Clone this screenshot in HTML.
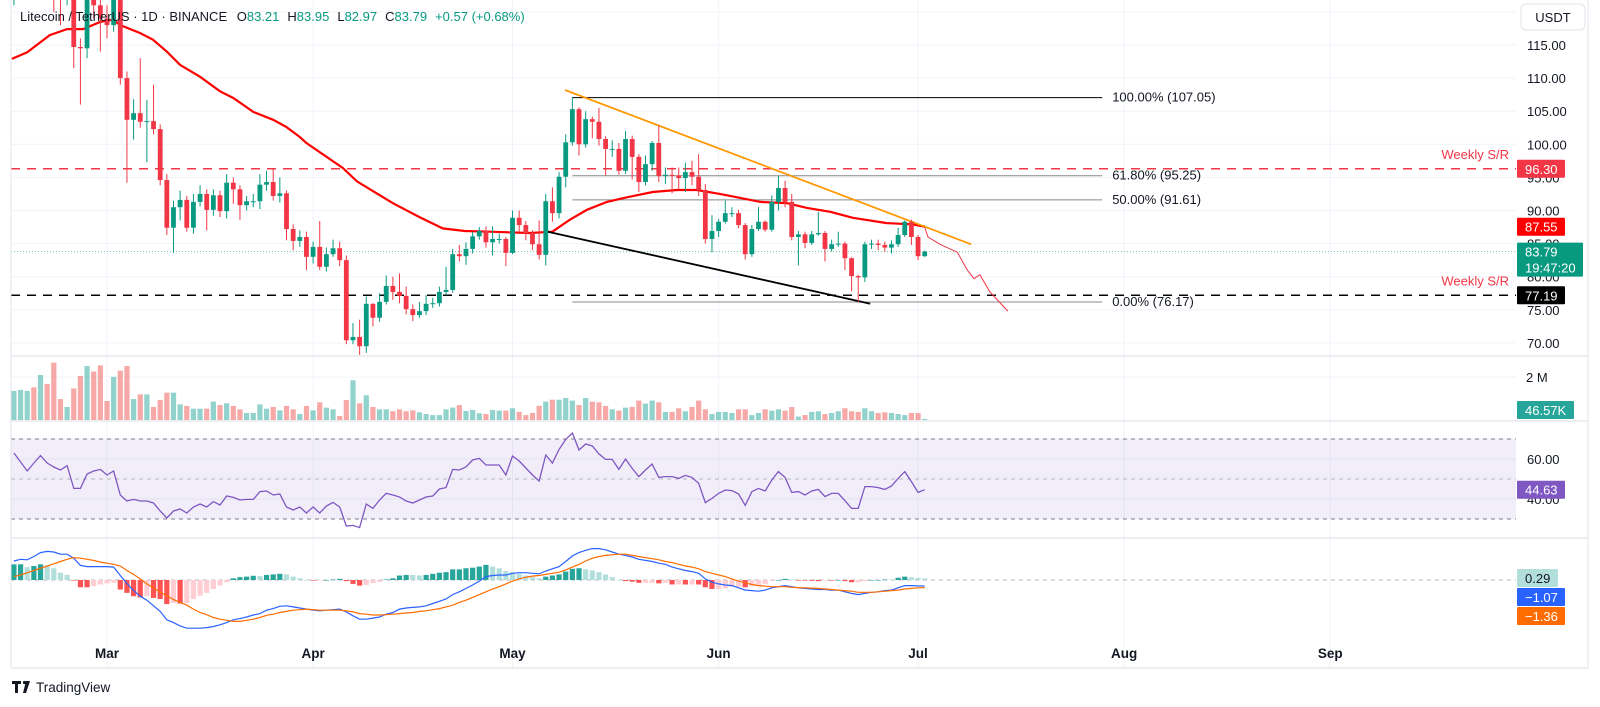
<!DOCTYPE html>
<html><head><meta charset="utf-8"><style>
html,body{margin:0;padding:0;background:#fff;}
svg{display:block;font-family:"Liberation Sans",Arial,sans-serif;}
</style></head><body>
<svg id="chart" width="1600" height="707" viewBox="0 0 1600 707">
<defs>
<clipPath id="cp-price"><rect x="11" y="0" width="1505" height="356"/></clipPath>
<clipPath id="cp-vol"><rect x="11" y="356" width="1505" height="65"/></clipPath>
<clipPath id="cp-rsi"><rect x="11" y="421" width="1505" height="117"/></clipPath>
<clipPath id="cp-macd"><rect x="11" y="538" width="1505" height="130"/></clipPath>
</defs>
<rect x="0" y="0" width="1600" height="707" fill="#ffffff"/>
<g id="grid"></g>
<g id="price" clip-path="url(#cp-price)"></g>
<g id="vol" clip-path="url(#cp-vol)"></g>
<g id="rsi" clip-path="url(#cp-rsi)"></g>
<g id="macd" clip-path="url(#cp-macd)"></g>
<g id="axis"></g>
<text x="20" y="21" font-size="13" fill="#131722">Litecoin / TetherUS · 1D · BINANCE <tspan dx="6">O</tspan><tspan fill="#089981">83.21</tspan><tspan dx="8">H</tspan><tspan fill="#089981">83.95</tspan><tspan dx="8">L</tspan><tspan fill="#089981">82.97</tspan><tspan dx="8">C</tspan><tspan fill="#089981">83.79</tspan><tspan dx="8" fill="#089981">+0.57 (+0.68%)</tspan></text>
<g><rect x="1521" y="4" width="64" height="26" rx="5" fill="#fff" stroke="#e0e3eb"/><text x="1553" y="22" font-size="13" text-anchor="middle" fill="#131722">USDT</text></g>
<g>
<path d="M12 681h9v3h-3v9h-3v-9h-3z" fill="#131722"/><circle cx="24.5" cy="682.5" r="1.6" fill="#131722"/><path d="M26 681h4l-4 12h-3z" fill="#131722"/>
<text x="36" y="692" font-size="13.5" fill="#131722">TradingView</text></g>
</svg>
<script>
// ---- data (day offsets from Mar 1 start at -14) ----
const startDay = -14;
const closes = [124,126,128,125,129,127,124,123,125,114.7,114.5,123,121,119,
118,127,110,103.7,
104.7,103.4,103.5,102.3,94.6,87.4,90.5,91.6,87.4,91.3,92.5,90.1,92.3,89.9,94.2,93.2,90.8,91.4,91.4,93.9,94.3,92.2,92.6,87.2,85.4,
86.0,83.0,84.5,81.5,83.4,84.3,82.5,70.4,70.9,69.5,75.9,73.8,76.2,78.6,77.7,77.1,75.1,74.2,74.8,75.9,76.0,77.7,78.0,83.4,83.1,84.2,86.1,86.9,85.2,85.7,85.7,83.6,88.9,87.8,86.6,84.9,83.3,
91.4,89.6,95.1,100.3,105.3,100.0,103.8,103.4,100.8,99.3,99.3,96.0,100.8,98.1,94.3,97.0,100.2,95.2,95.4,95.3,94.9,95.8,95.1,93.1,85.7,86.9,88.3,89.6,89.6,87.8,83.4,87.2,88.3,87.1,91.3,93.4,91.3,86.0,86.4,85.1,86.4,86.6,84.2,84.9,85.0,82.8,80.1,79.9,84.9,85.0,84.8,84.4,84.9,86.3,88.3,86.0,83.1,83.79];
const highs = [128,130,131,129,132,131,128,126,128,126,116,125,124,124,121,135,128,111,
106.8,113,106.7,109,103,95.5,91.5,93,92.2,92.5,93.8,93.2,93.2,93.0,95.5,95.0,93.8,92.2,92.5,95.5,96.0,96.2,95.0,93.0,87.9,
87.0,86.8,85.3,88.4,84.4,85.6,85.3,83.2,73.0,73.5,77.0,76.0,77.5,80.2,80.0,80.5,78.5,75.8,76.2,77.2,76.8,78.5,81.5,84.2,84.8,85.2,86.8,87.5,87.6,87.6,86.5,86.0,90.0,90.0,88.4,87.0,88.5,
92.5,93.5,95.8,101.5,107.1,105.6,105.0,104.2,105.5,101.2,100.6,100.2,102.0,101.3,98.5,98.3,100.5,102.9,96.5,96.5,96.5,97.2,97.5,98.5,94.0,89.3,88.7,91.5,90.5,90.1,88.1,87.8,90.5,88.5,92.3,95.2,94.5,92.5,86.9,86.8,86.9,89.8,86.9,85.6,86.8,85.3,82.9,80.3,85.3,85.6,85.6,85.3,85.5,87.4,88.5,88.6,86.3,83.95];
const lows = [121,123,125,122,124,125,120,118,121,111.5,106,113,119,114,116,117,109,94.2,
100.7,102.5,97.3,101.5,93.8,86.3,83.6,88.5,86.8,86.5,90.6,87.0,89.2,89.0,88.8,91.0,88.6,90.0,90.5,90.2,93.0,91.5,91.2,85.5,84.0,
84.5,81.0,82.0,81.0,80.8,83.0,81.6,69.8,69.8,68.2,68.5,72.5,73.2,75.8,76.5,76.0,74.3,73.3,73.8,74.2,75.3,75.5,77.2,77.6,82.3,81.8,83.5,85.6,84.4,83.2,85.0,81.6,83.4,86.8,85.5,84.0,82.6,
81.7,88.3,88.8,93.5,99.8,98.3,99.5,100.9,99.8,95.3,98.1,95.4,95.5,94.7,92.8,93.8,96.0,94.3,94.0,92.6,93.2,92.8,93.8,92.2,85.0,83.7,86.0,88.0,89.0,87.3,82.6,83.0,86.9,86.8,86.8,90.0,90.5,85.5,81.7,84.3,84.8,86.2,82.3,83.8,84.5,81.0,77.8,76.2,79.2,84.2,84.0,83.8,83.5,84.5,86.0,84.8,82.5,82.97];
const volumes = [1.36,1.41,1.36,1.53,2.11,1.69,2.69,0.98,0.61,1.48,2.06,2.53,2.27,2.56,0.89,2.02,2.31,2.53,0.98,1.20,1.20,0.61,0.94,1.28,1.28,0.73,0.66,0.53,0.53,0.53,0.86,0.70,0.78,0.66,0.50,0.33,0.33,0.73,0.53,0.61,0.45,0.66,0.50,0.28,0.66,0.45,0.83,0.58,0.50,0.19,0.94,1.86,0.78,1.16,0.61,0.50,0.50,0.41,0.50,0.41,0.45,0.36,0.28,0.23,0.23,0.50,0.58,0.70,0.42,
.47,.31,.28,.47,.44,.44,.55,.38,.23,.33,.66,.86,.95,.95,1.03,.91,.70,1.03,.86,.83,.66,.50,.44,.58,.61,.91,.77,.91,.83,.38,.38,.55,.41,.61,.91,.50,.28,.38,.38,.33,.50,.50,.23,.33,.50,.44,.50,.44,.61,.16,.23,.38,.41,.28,.33,.41,.55,.41,.38,.55,.41,.33,.36,.33,.28,.23,.33,.33,.05];
const rsiValues = [63,58.5,54,58,61.7,58,56,54.5,56.7,45.3,45.3,52.5,54,54.8,52,54,42,39,39.8,39,39,38,34,30.5,34,35,33,36,37.5,36,38.7,37,41.5,40.8,39.5,39.8,39.8,43.7,44,42,42.5,36,34.5,36,33,36,33,36.5,38.3,36,26.5,26.8,25.7,37.5,35.3,39.5,42.8,42,41,39,38,39.5,41,41.5,45,45.7,54.8,54.5,56,59.5,60.3,57,57,57,52,61.5,59,55.5,52,49,62,58,64.8,69.8,73,64.5,67.5,66.5,62.5,59.8,59.8,54.8,60,55.3,51.2,54.5,57.5,50.8,51.2,51.2,50.3,51.8,50.8,47.8,38.2,40.3,42.8,44.5,44.2,42.5,36.8,43.7,45.3,44,49.5,53.7,50.8,43.3,43.7,42,44,44.8,41.2,42.8,42.8,39.2,35.3,35.3,46.2,46.2,45.7,44.8,46.5,50.3,53.7,48.7,43.3,44.63];
const macdValues = [3.4,3.7,3.6,4.2,4.9,5.1,5.0,4.6,4.6,3.9,2.6,2.4,2.4,2.4,2.4,2.3,0.8,-0.6,-1.9,-2.9,-3.6,-4.6,-5.6,-7.1,-7.6,-8.2,-8.6,-8.6,-8.6,-8.5,-8.3,-8.0,-7.6,-7.1,-6.9,-6.6,-6.25,-6.0,-5.4,-5.1,-4.7,-4.6,-4.8,-5.0,-5.2,-5.4,-5.5,-5.4,-5.3,-5.2,-5.7,-6.4,-7.0,-7.0,-6.8,-6.6,-6.1,-5.8,-5.2,-5.0,-4.9,-4.8,-4.6,-4.2,-3.8,-3.4,-2.6,-2.1,-1.5,-0.9,-0.2,0.6,0.8,0.9,0.9,1.2,1.3,1.3,1.2,1.1,1.6,2.0,2.4,3.3,4.3,4.9,5.3,5.6,5.6,5.4,5.0,4.6,4.4,4.1,3.7,3.5,3.3,3.0,2.8,2.3,2.0,1.7,1.5,1.2,0.2,-0.4,-0.7,-0.9,-1.0,-1.4,-1.8,-1.9,-2.0,-1.8,-1.4,-1.2,-1.0,-1.2,-1.4,-1.5,-1.6,-1.7,-1.7,-1.8,-1.8,-2.1,-2.4,-2.6,-2.4,-2.2,-2.1,-1.9,-1.8,-1.4,-1.0,-1.0,-1.05,-1.07];
const signalValues = [0.6,0.9,1.3,1.7,2.1,2.5,2.9,3.3,3.7,4.0,3.9,3.7,3.5,3.2,3.0,2.8,2.5,1.7,1.0,0.2,-0.7,-1.4,-2.2,-2.8,-3.5,-4.0,-4.5,-5.2,-5.8,-6.2,-6.7,-7.0,-7.2,-7.4,-7.4,-7.2,-7.0,-6.7,-6.3,-6.1,-5.8,-5.6,-5.4,-5.3,-5.2,-5.3,-5.4,-5.4,-5.4,-5.4,-5.5,-5.7,-6.0,-6.1,-6.25,-6.25,-6.2,-6.1,-6.0,-5.9,-5.8,-5.6,-5.5,-5.3,-5.1,-4.8,-4.5,-4.0,-3.6,-3.1,-2.6,-2.1,-1.6,-1.2,-0.7,-0.2,0.2,0.5,0.7,0.8,1.0,1.2,1.4,1.8,2.3,2.8,3.4,3.9,4.2,4.4,4.5,4.6,4.6,4.4,4.2,4.0,3.8,3.6,3.3,3.1,2.8,2.5,2.3,2.0,1.5,1.2,0.9,0.6,0.2,-0.2,-0.5,-0.8,-1.0,-1.1,-1.2,-1.2,-1.2,-1.3,-1.35,-1.4,-1.45,-1.5,-1.6,-1.7,-1.8,-1.9,-2.0,-2.2,-2.2,-2.2,-2.1,-2.0,-1.9,-1.8,-1.6,-1.5,-1.4,-1.36];
const maDays = [-14.3,-12,-8.6,-6,-3.6,-1,0.9,2,5,6.9,9,11,14,17,19,22,25,27,29,30,35.5,37.6,43,47,50.5,53.8,57.6,63.6,67,69.6,72.2,75.2,78.2,82.1,85.7,88.7,92.2,94.8,98.3,102.3,105.3,108.8,112.2,117.3,121.2,123];
const maValues = [112.9,113.9,116.5,117.4,117.4,118.5,118.8,118,116.8,115.8,114,112,110.2,108,107,104.9,103.7,102.6,101.1,100.2,96.4,94.4,91.1,89.0,87.3,86.9,86.8,86.6,86.8,88.6,90.1,91.3,92.0,92.8,93.1,93.1,92.5,92.0,91.3,91.1,90.4,89.8,88.9,88.1,87.9,87.55];
const projDays = [122.9,123.5,125.3,127.9,129.4,130.4,131.3,132.8,135.5];
const projValues = [87.8,86.0,84.9,83.7,81.0,79.7,80.3,77.7,74.8];
const trendUpperDays = [68.9,130]; const trendUpperValues = [108.2,84.9];
const trendLowerDays = [66.3,114.8]; const trendLowerValues = [86.8,75.9];
const fibLevels = [107.05,95.25,91.61,76.17];
const fibLabels = ["100.00% (107.05)","61.80% (95.25)","50.00% (91.61)","0.00% (76.17)"];
const fibStartDay = 70, fibEndDay = 149.7;
const srLevels = [96.30,77.19];
const priceTicks = [115,110,105,100,95,90,85,80,75,70];
const gridPrices = [120,115,110,105,100,95,90,85,80,75,70];
const monthLabels = ["Mar","Apr","May","Jun","Jul","Aug","Sep"];
const monthDays = [0,31,61,92,122,153,184];

// ---- axis functions ----
const X0 = 107, DX = 6.648;
function xD(d){ return X0 + d*DX; }
function yP(p){ return 45 + (115-p)*6.62; }
function yV(v){ return 420 - v*21.35; }
function yR(r){ return 479 - (r-50)*2; }
function yM(m){ return 580 - m*5.6; }
const NS = "http://www.w3.org/2000/svg";
function mk(tag, attrs, parent){ const e=document.createElementNS(NS,tag); for(const k in attrs) e.setAttribute(k,attrs[k]); parent.appendChild(e); return e; }
const gGrid=document.getElementById('grid'), gP=document.getElementById('price'), gV=document.getElementById('vol'), gR=document.getElementById('rsi'), gM=document.getElementById('macd'), gA=document.getElementById('axis');
const UP="#089981", DN="#f23645";

// grid
gridPrices.forEach(p=>{ const l=mk('line',{x1:11,x2:1516,y1:yP(p),y2:yP(p),stroke:'#f0f3fa','stroke-width':1},gGrid);

 });
monthDays.forEach(d=>{ const l=mk('line',{x1:xD(d),x2:xD(d),y1:0,y2:668,stroke:'#f0f3fa','stroke-width':1},gGrid);

 });
[377,459,499].forEach(y=>{ const l=mk('line',{x1:11,x2:1516,y1:y,y2:y,stroke:'#f0f3fa'},gGrid);

 });

// price pane lines
function poly(days, vals, attrs, parent){ const pts=days.map((d,i)=>xD(d).toFixed(1)+','+yP(vals[i]).toFixed(1)).join(' '); return mk('polyline',Object.assign({points:pts,fill:'none'},attrs),parent); }
srLevels.forEach((p,i)=>{ const l=mk('line',{x1:11,x2:1516,y1:yP(p),y2:yP(p),stroke:i?'#000':'#f23645','stroke-width':1.5,'stroke-dasharray':'9 7'},gP);

 });
const lastLine=mk('line',{x1:11,x2:1516,y1:yP(closes[closes.length-1]),y2:yP(closes[closes.length-1]),stroke:'#089981','stroke-width':1,'stroke-dasharray':'1 2',opacity:0.6},gP);


fibLevels.forEach((p,i)=>{ const l=mk('line',{x1:xD(fibStartDay),x2:xD(fibEndDay),y1:yP(p),y2:yP(p),stroke:i===0?'#000':'#888','stroke-width':1},gP);


const t=mk('text',{x:xD(fibEndDay)+10,y:yP(p)+4,'font-size':13,fill:'#131722'},gP); t.textContent=fibLabels[i];

 });
const ma=poly(maDays,maValues,{stroke:'#f00','stroke-width':2.2},gP);


const pj=poly(projDays,projValues,{stroke:'#f23645','stroke-width':1},gP);


const tu=poly(trendUpperDays,trendUpperValues,{stroke:'#ff9800','stroke-width':1.8},gP);


const tl=poly(trendLowerDays,trendLowerValues,{stroke:'#000','stroke-width':1.8},gP);



// candles + volume
for(let i=0;i<closes.length;i++){
  const d=startDay+i, x=xD(d), c=closes[i], o=i?closes[i-1]:124;
  const h=highs[i]!==undefined?highs[i]:Math.max(o,c), lo=lows[i]!==undefined?lows[i]:Math.min(o,c);
  const col=c>=o?UP:DN;
  const w=mk('line',{x1:x,x2:x,y1:yP(h),y2:yP(lo),stroke:col,'stroke-width':1},gP);
  
  
  const top=yP(Math.max(o,c)), bot=yP(Math.min(o,c));
  const b=mk('rect',{x:x-2.4,y:top,width:4.8,height:Math.max(1,bot-top),fill:col},gP);
  
  
  const v=volumes[i]; if(v!==undefined){
    const vb=mk('rect',{x:x-2.6,y:yV(v),width:5.2,height:420-yV(v),fill:c>=o?'#26a69a':'#ef5350',opacity:0.5},gV);
    
     }
}

// RSI
const band=mk('rect',{x:11,y:yR(70),width:1505,height:yR(30)-yR(70),fill:'#7e57c2','fill-opacity':0.1},gR);


[70,50,30].forEach(r=>{ const l=mk('line',{x1:11,x2:1516,y1:yR(r),y2:yR(r),stroke:r===50?'#b2b5be':'#787b86','stroke-dasharray':'4 4'},gR);

 });
const rl=mk('polyline',{points:rsiValues.map((r,i)=>xD(startDay+i).toFixed(1)+','+yR(r).toFixed(1)).join(' '),fill:'none',stroke:'#7e57c2','stroke-width':1.3},gR);



// MACD
const z=mk('line',{x1:11,x2:1516,y1:yM(0),y2:yM(0),stroke:'#b2b5be','stroke-dasharray':'4 4'},gM);


let prevH=0;
macdValues.forEach((m,i)=>{ const hv=m-signalValues[i]; const x=xD(startDay+i);
  let col; if(hv>=0) col = hv>=prevH?'#26a69a':'#b2dfdb'; else col = hv<prevH?'#ff5252':'#ffcdd2';
  prevH=hv; const y1=Math.min(yM(hv),yM(0)), hh=Math.abs(yM(hv)-yM(0));
  const hb=mk('rect',{x:x-2.6,y:y1,width:5.2,height:Math.max(0.6,hh),fill:col},gM);
  
   });
const ml=mk('polyline',{points:macdValues.map((m,i)=>xD(startDay+i).toFixed(1)+','+yM(m).toFixed(1)).join(' '),fill:'none',stroke:'#2962ff','stroke-width':1.2},gM);


const sl=mk('polyline',{points:signalValues.map((m,i)=>xD(startDay+i).toFixed(1)+','+yM(m).toFixed(1)).join(' '),fill:'none',stroke:'#ff6d00','stroke-width':1.2},gM);



// pane separators & borders
[356,421,538,668].forEach(y=>{ const l=mk('line',{x1:11,x2:1588,y1:y,y2:y,stroke:'#e0e3eb','stroke-width':1.2},gA);

 });
const lb=mk('line',{x1:11,x2:11,y1:0,y2:668,stroke:'#e0e3eb'},gA);


const rb=mk('line',{x1:1588,x2:1588,y1:0,y2:668,stroke:'#e0e3eb'},gA);



// axis labels
function label(txt,x,y,name,anchor){ const t=mk('text',{x:x,y:y,'font-size':13,fill:'#131722','text-anchor':anchor||'start'},gA); t.textContent=txt;   return t; }
priceTicks.forEach(p=>{ const t=label(p.toFixed(2),1527,yP(p)+5,'price-tick-label'); });
label('2 M',1526,382,'volume-tick-label');
label('60.00',1527,yR(60)+5,'rsi-tick-label');
label('40.00',1527,yR(40)+5,'rsi-tick-label');
monthLabels.forEach((m,i)=>{ const t=mk('text',{x:xD(monthDays[i]),y:658,'font-size':13.5,'font-weight':'bold',fill:'#131722','text-anchor':'middle'},gA); t.textContent=m;

 });
// weekly s/r text
[0,1].forEach(i=>{ const t=mk('text',{x:1509,y:yP(srLevels[i])-10,'font-size':13,fill:'#f23645','text-anchor':'end'},gA); t.textContent='Weekly S/R';

 });

// badges
function badge(txt,y,bg,fg,w,name,txt2){ const h=txt2?34:18; const g=mk('g',{},gA);


mk('rect',{x:1517,y:y-h/2,width:w,height:h,fill:bg,rx:1},g);
const t=mk('text',{x:1525,y:txt2?y-3:y+5,'font-size':13,fill:fg},g); t.textContent=txt;
if(txt2){ const t2=mk('text',{x:1525,y:y+13,'font-size':13,fill:fg},g); t2.textContent=txt2; } }
badge(srLevels[0].toFixed(2),yP(srLevels[0]),'#f23645','#fff',48,'resistance-price-badge');
badge('87.55',yP(87.55),'#ff0000','#fff',48,'ma-value-badge');
badge(closes[closes.length-1].toFixed(2),yP(83.79)+8,'#089981','#fff',66,'last-price-badge','19:47:20');
badge(srLevels[1].toFixed(2),yP(srLevels[1]),'#000','#fff',48,'support-price-badge');
badge('46.57K',410,'#26a69a','#fff',57,'volume-value-badge');
badge(rsiValues[rsiValues.length-1].toFixed(2),yR(rsiValues[rsiValues.length-1]),'#7e57c2','#fff',48,'rsi-value-badge');
badge('0.29',578,'#b2dfdb','#131722',41,'histogram-value-badge');
badge(macdValues[macdValues.length-1].toFixed(2).replace('-','−'),597,'#2962ff','#fff',48,'macd-value-badge');
badge(signalValues[signalValues.length-1].toFixed(2).replace('-','−'),616,'#ff6d00','#fff',48,'signal-value-badge');
</script>
</body></html>
